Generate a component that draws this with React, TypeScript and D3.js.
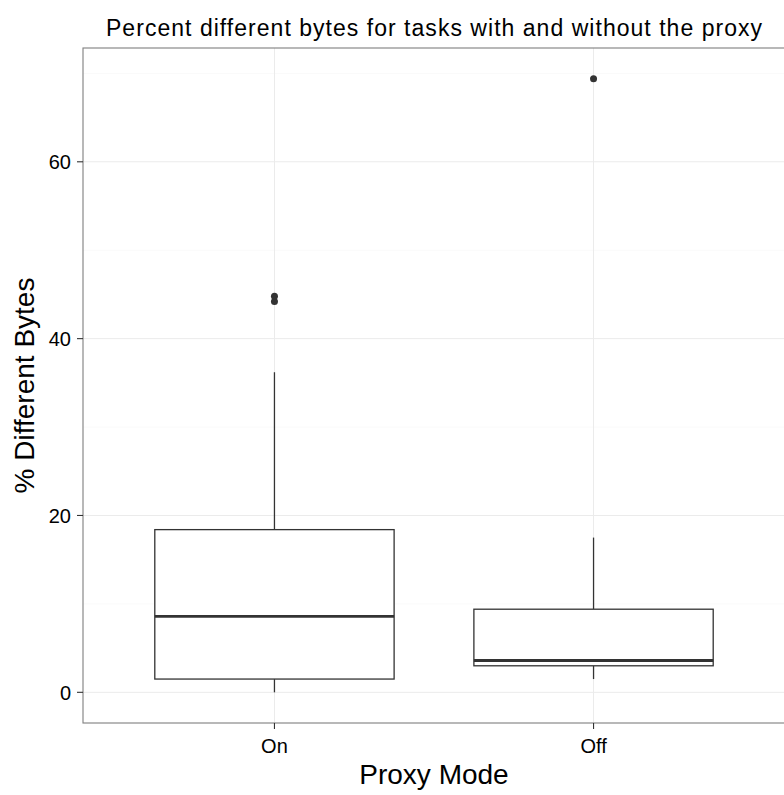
import React, { useEffect, useRef } from 'react';
import * as d3 from 'd3';

// proxy modes on the x axis
const modes = ['On', 'Off'];

// box statistics (% different bytes)
const lowerWhisker = [0, 1.5];
const lowerHinge = [1.5, 3.0];
const medians = [8.6, 3.6];
const upperHinge = [18.4, 9.4];
const upperWhisker = [36.2, 17.5];
const outliersOn = [44.2, 44.8];
const outliersOff = [69.4];

const yTicks = [0, 20, 40, 60];
const yMinorTicks = [10, 30, 50, 70];

const App = () => {
  const svgRef = useRef(null);

  useEffect(() => {
    const width = 784;
    const height = 795;
    const margin = { top: 48, right: -1, bottom: 72, left: 83 };
    const font = '"Liberation Sans", Arial, Helvetica, sans-serif';

    const svg = d3.select(svgRef.current);
    svg.selectAll('*').remove();
    svg.attr('width', width).attr('height', height);

    svg.append('rect').attr('width', width).attr('height', height).attr('fill', 'white');

    const boxes = modes.map((m, i) => ({
      mode: m,
      lo: lowerWhisker[i],
      q1: lowerHinge[i],
      med: medians[i],
      q3: upperHinge[i],
      hi: upperWhisker[i],
      out: i === 0 ? outliersOn : outliersOff
    }));

    // ggplot style 5% expansion of the data range
    const allVals = boxes.flatMap(b => [b.lo, b.hi, ...b.out]);
    const lo = d3.min(allVals);
    const hi = d3.max(allVals);
    const pad = (hi - lo) * 0.05;

    const x = d3.scalePoint()
      .domain(modes)
      .range([margin.left, width - margin.right])
      .padding(0.6);

    const y = d3.scaleLinear()
      .domain([lo - pad, hi + pad])
      .range([height - margin.bottom, margin.top]);

    const boxWidth = x.step() * 0.75;

    // grid
    svg.append('g')
      .selectAll('line')
      .data(yMinorTicks)
      .join('line')
      .attr('x1', margin.left).attr('x2', width - margin.right)
      .attr('y1', d => y(d)).attr('y2', d => y(d))
      .attr('stroke', '#fafafa').attr('stroke-width', 1);

    svg.append('g')
      .selectAll('line')
      .data(yTicks)
      .join('line')
      .attr('x1', margin.left).attr('x2', width - margin.right)
      .attr('y1', d => y(d)).attr('y2', d => y(d))
      .attr('stroke', '#ebebeb').attr('stroke-width', 1);

    svg.append('g')
      .selectAll('line')
      .data(modes)
      .join('line')
      .attr('x1', d => x(d)).attr('x2', d => x(d))
      .attr('y1', margin.top).attr('y2', height - margin.bottom)
      .attr('stroke', '#ebebeb').attr('stroke-width', 1);

    // boxplots
    const g = svg.append('g').selectAll('g').data(boxes).join('g');

    g.append('line')
      .attr('x1', d => x(d.mode)).attr('x2', d => x(d.mode))
      .attr('y1', d => y(d.q3)).attr('y2', d => y(d.hi))
      .attr('stroke', '#333').attr('stroke-width', 1.3);

    g.append('line')
      .attr('x1', d => x(d.mode)).attr('x2', d => x(d.mode))
      .attr('y1', d => y(d.q1)).attr('y2', d => y(d.lo))
      .attr('stroke', '#333').attr('stroke-width', 1.3);

    g.append('rect')
      .attr('x', d => x(d.mode) - boxWidth / 2)
      .attr('width', boxWidth)
      .attr('y', d => y(d.q3))
      .attr('height', d => y(d.q1) - y(d.q3))
      .attr('fill', 'white')
      .attr('stroke', '#333').attr('stroke-width', 1.3);

    g.append('line')
      .attr('x1', d => x(d.mode) - boxWidth / 2).attr('x2', d => x(d.mode) + boxWidth / 2)
      .attr('y1', d => y(d.med)).attr('y2', d => y(d.med))
      .attr('stroke', '#333').attr('stroke-width', 2.8);

    g.selectAll('circle')
      .data(d => d.out.map(v => ({ mode: d.mode, v })))
      .join('circle')
      .attr('cx', d => x(d.mode))
      .attr('cy', d => y(d.v))
      .attr('r', 3.5)
      .attr('fill', '#333');

    // panel border
    svg.append('rect')
      .attr('x', margin.left).attr('y', margin.top)
      .attr('width', width - margin.right - margin.left)
      .attr('height', height - margin.bottom - margin.top)
      .attr('fill', 'none')
      .attr('stroke', '#7f7f7f').attr('stroke-width', 1.1);

    // y axis ticks and labels
    const yAxis = svg.append('g');
    yAxis.selectAll('line')
      .data(yTicks)
      .join('line')
      .attr('x1', margin.left - 6).attr('x2', margin.left)
      .attr('y1', d => y(d)).attr('y2', d => y(d))
      .attr('stroke', '#333').attr('stroke-width', 1.1);
    yAxis.selectAll('text')
      .data(yTicks)
      .join('text')
      .attr('x', margin.left - 12)
      .attr('y', d => y(d))
      .attr('dy', '0.36em')
      .attr('text-anchor', 'end')
      .attr('font-family', font)
      .attr('font-size', 20)
      .attr('fill', '#000')
      .text(d => d);

    // x axis ticks and labels
    const xAxis = svg.append('g');
    xAxis.selectAll('line')
      .data(modes)
      .join('line')
      .attr('x1', d => x(d)).attr('x2', d => x(d))
      .attr('y1', height - margin.bottom).attr('y2', height - margin.bottom + 6)
      .attr('stroke', '#333').attr('stroke-width', 1.1);
    xAxis.selectAll('text')
      .data(modes)
      .join('text')
      .attr('x', d => x(d))
      .attr('y', height - margin.bottom + 30)
      .attr('text-anchor', 'middle')
      .attr('font-family', font)
      .attr('font-size', 20)
      .attr('fill', '#000')
      .text(d => d);

    // titles
    const cx = (margin.left + width - margin.right) / 2;
    svg.append('text')
      .attr('x', cx)
      .attr('y', 36)
      .attr('text-anchor', 'middle')
      .attr('font-family', font)
      .attr('font-size', 23)
      .attr('textLength', 656)
      .attr('lengthAdjust', 'spacing')
      .text('Percent different bytes for tasks with and without the proxy');

    svg.append('text')
      .attr('x', cx)
      .attr('y', 784)
      .attr('text-anchor', 'middle')
      .attr('font-family', font)
      .attr('font-size', 28)
      .text('Proxy Mode');

    svg.append('text')
      .attr('transform', `translate(34,${(margin.top + height - margin.bottom) / 2}) rotate(-90)`)
      .attr('text-anchor', 'middle')
      .attr('font-family', font)
      .attr('font-size', 28)
      .text('% Different Bytes');
  }, []);

  return (
    <svg ref={svgRef} style={{ position: 'absolute', left: 0, top: 0 }}></svg>
  );
};

export default App;
